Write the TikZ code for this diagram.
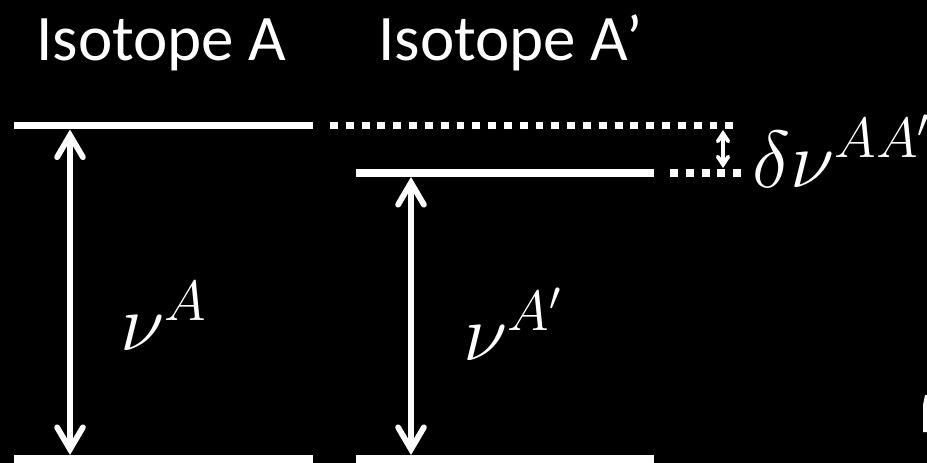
\RequirePackage{fix-cm}
\documentclass[tikz,border=0pt]{standalone}
\usepackage{fontspec}
\setmainfont{Carlito}
\usetikzlibrary{arrows.meta}

\begin{document}
\begin{tikzpicture}[x=0.02cm, y=-0.02cm,
  level/.style={white, line width=4.25pt},
  levelgap/.style={white, line width=4.25pt, dash pattern=on 4.5pt off 4.5pt},
  trans/.style={white, line width=3.3pt,
    {Straight Barb[length=12.5pt,width=14.7pt,line cap=round]}-{Straight Barb[length=12.5pt,width=14.7pt,line cap=round]}},
  isoshift/.style={white, line width=2.2pt,
    {Straight Barb[length=4.5pt,width=6pt,line cap=round]}-{Straight Barb[length=4.5pt,width=6pt,line cap=round]}},
  title/.style={text=white, font=\fontsize{37}{44}\selectfont, inner sep=0pt, anchor=base west},
  freq/.style={text=white, font=\fontsize{46}{55}\selectfont, inner sep=0pt, anchor=base west},
]
  \fill[black] (0,0) rectangle (927,463);
  \useasboundingbox (0,0) rectangle (927,463);

  % isotope names
  \node[title] (isoA) at (36,60) {Isotope A};
  \node[title] (isoB) at (378,60) {Isotope A’};

  % energy levels
  \coordinate (upA-w) at (14,125.5);
  \coordinate (upA-e) at (313,125.5);
  \coordinate (upA-dot) at (330,125.5);
  \coordinate (upA-end) at (738,125.5);
  \coordinate (upB-w) at (356,173);
  \coordinate (upB-e) at (654,173);
  \coordinate (upB-dot) at (670,173);
  \coordinate (upB-end) at (742,173);
  \coordinate (lowA-w) at (14,459);
  \coordinate (lowA-e) at (313,459);
  \coordinate (lowB-w) at (356,459);
  \coordinate (lowB-e) at (654,459);

  \draw[level] (upA-w) -- (upA-e);
  \draw[level] (upB-w) -- (upB-e);
  \draw[level] (lowA-w) -- (lowA-e);
  \draw[level] (lowB-w) -- (lowB-e);
  \draw[levelgap] (upA-dot) -- (upA-end);
  \draw[levelgap] (upB-dot) -- (upB-end);

  % transitions
  \coordinate (nuA-top) at (70,129.5);
  \coordinate (nuA-bot) at (70,455);
  \coordinate (nuB-top) at (411,177);
  \coordinate (nuB-bot) at (411,455);
  \coordinate (dnu-top) at (723,130);
  \coordinate (dnu-bot) at (723,168);

  \draw[trans] (nuA-top) -- (nuA-bot);
  \draw[trans] (nuB-top) -- (nuB-bot);
  \draw[isoshift] (dnu-top) -- (dnu-bot);

  \node[freq] (lblA) at (120,350) {$\nu^{A}$};
  \node[freq] (lblB) at (463,360) {$\nu^{A'}$};
  \node[freq] (lblshift) at (752,187) {$\delta\nu^{AA'}$};

  % cut-off glyph at the right edge
  \fill[white] (925,395) -- (927,395) -- (927,432) -- (923,432) -- (923,405) -- cycle;
\end{tikzpicture}
\end{document}
